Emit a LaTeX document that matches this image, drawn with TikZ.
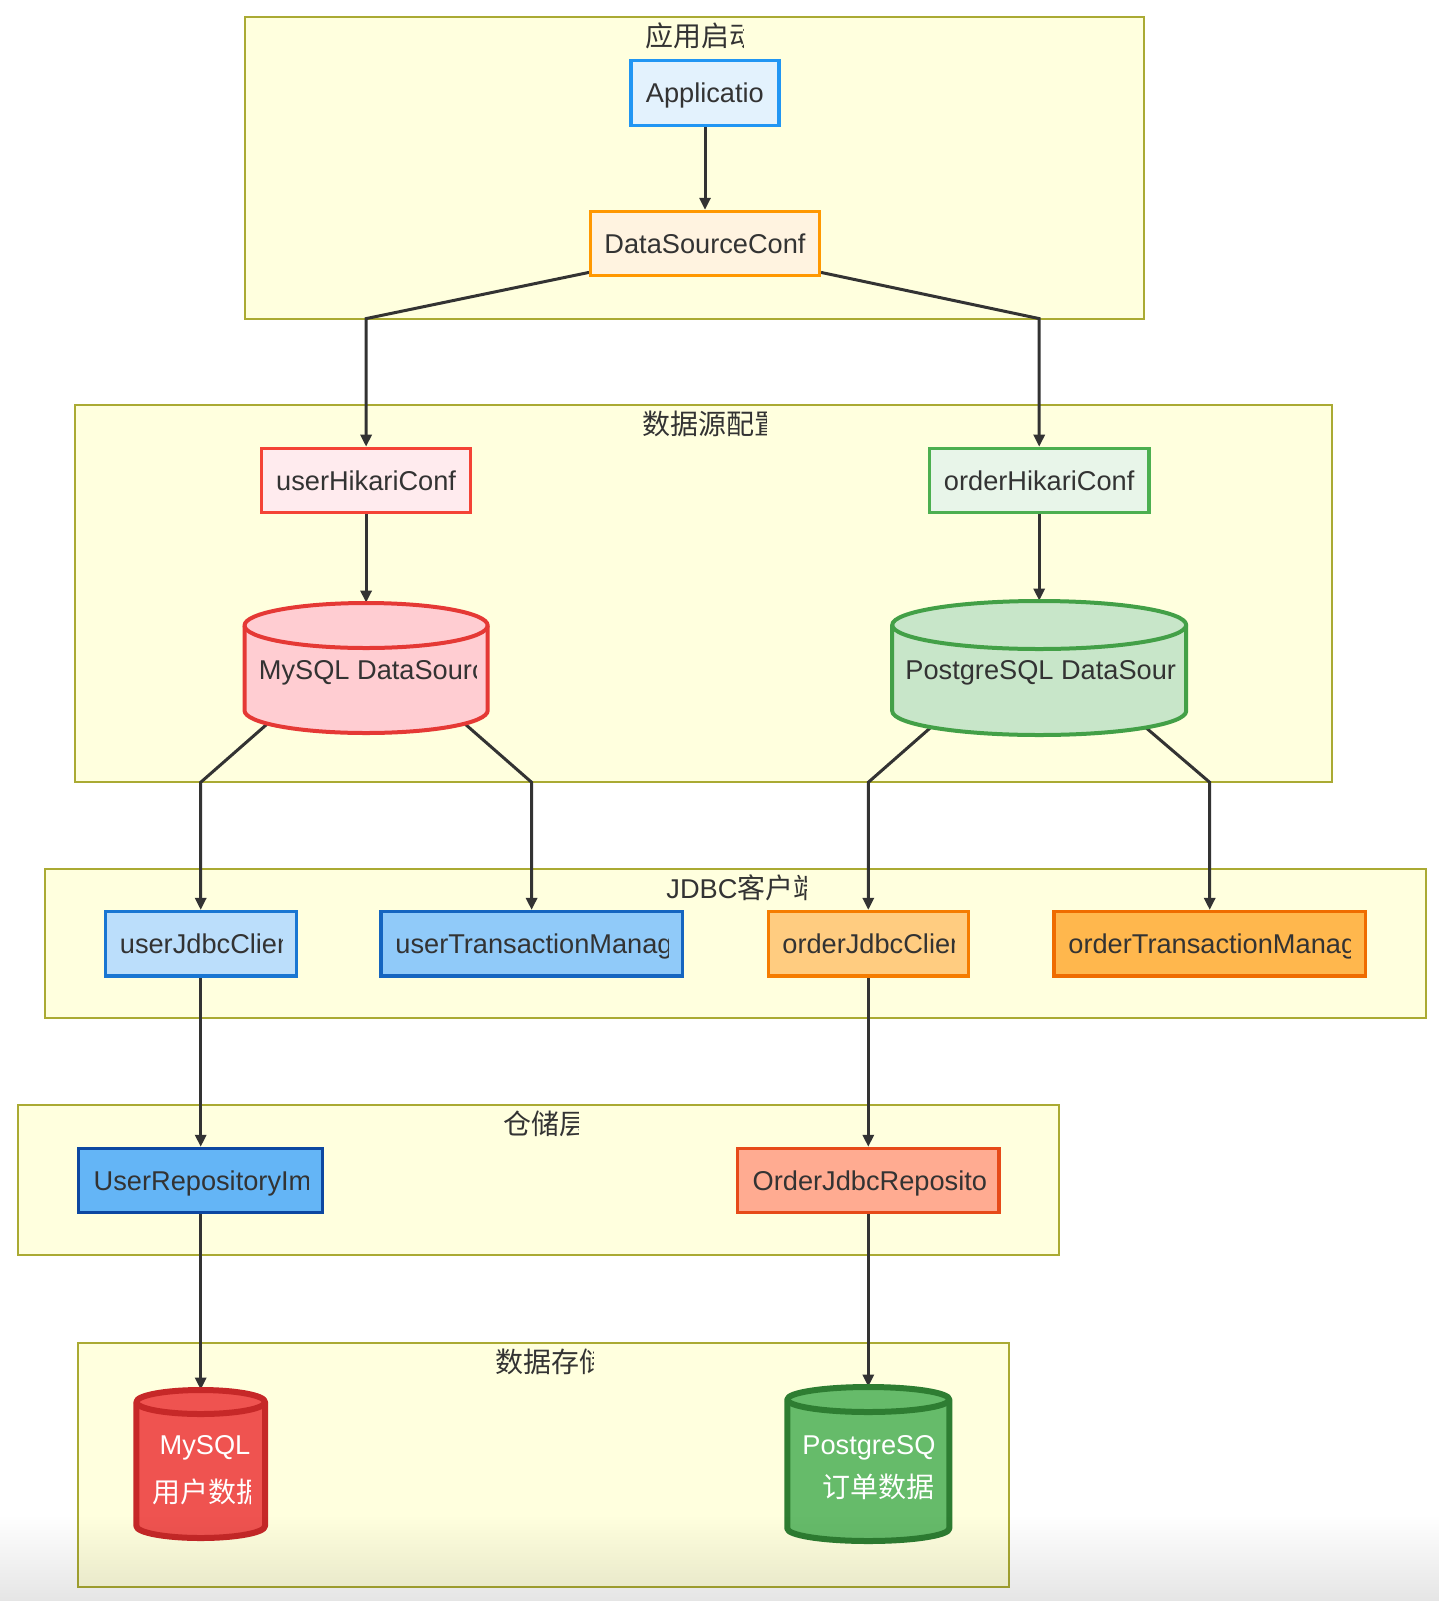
\documentclass[tikz,border=0pt]{standalone}
\usepackage{fontspec}
\setmainfont{Liberation Sans}
\newfontfamily\cjkfont{Noto Sans CJK SC}
\usetikzlibrary{arrows.meta,fadings}

\definecolor{txt}{HTML}{333333}
\definecolor{lineC}{HTML}{333333}
\definecolor{grpF}{HTML}{FFFFDE}
\definecolor{grpB}{HTML}{AAAA33}
\definecolor{appF}{HTML}{E3F2FD}\definecolor{appD}{HTML}{2196F3}
\definecolor{dscF}{HTML}{FFF3E0}\definecolor{dscD}{HTML}{FF9800}
\definecolor{uhcF}{HTML}{FFEBEE}\definecolor{uhcD}{HTML}{F44336}
\definecolor{ohcF}{HTML}{E8F5E9}\definecolor{ohcD}{HTML}{4CAF50}
\definecolor{mdsF}{HTML}{FFCDD2}\definecolor{mdsD}{HTML}{E53935}
\definecolor{pdsF}{HTML}{C8E6C9}\definecolor{pdsD}{HTML}{43A047}
\definecolor{ujcF}{HTML}{BBDEFB}\definecolor{ujcD}{HTML}{1976D2}
\definecolor{utmF}{HTML}{90CAF9}\definecolor{utmD}{HTML}{1565C0}
\definecolor{ojcF}{HTML}{FFCC80}\definecolor{ojcD}{HTML}{F57C00}
\definecolor{otmF}{HTML}{FFB74D}\definecolor{otmD}{HTML}{EF6C00}
\definecolor{urF}{HTML}{64B5F6}\definecolor{urD}{HTML}{0D47A1}
\definecolor{orF}{HTML}{FFAB91}\definecolor{orD}{HTML}{E64A19}
\definecolor{mdbF}{HTML}{EF5350}\definecolor{mdbD}{HTML}{C62828}
\definecolor{pdbF}{HTML}{66BB6A}\definecolor{pdbD}{HTML}{2E7D32}

\newcommand\zh[1]{{\cjkfont\fontsize{14}{16}\selectfont #1}}

\tikzfading[name=fadebot, top color=transparent!100, bottom color=transparent!0]

\tikzset{
  grp/.style={draw=grpB, fill=grpF, line width=1pt},
  nbox/.style={rectangle, line width=1.6pt, inner sep=0pt, minimum height=32.2pt,
    text height=9.8pt, text depth=0pt, text=txt, font=\fontsize{13.6}{16}\selectfont},
  lbl/.style={inner sep=0pt, text height=9.8pt, text depth=0pt, text=txt,
    font=\fontsize{13.6}{16}\selectfont},
  wlbl/.style={lbl, text=white},
  cylanchor/.style={rectangle, inner sep=0pt, draw=none},
  conn/.style={draw=lineC, line width=1.5pt, -{Triangle[length=6pt,width=5.5pt]}},
}

% #1 name, #2 x start, #3 x clip, #4 y, #5 style, #6 text
\newcommand\cliplabel[6]{%
  \begin{scope}
    \clip (#2-2,#4-30) rectangle (#3,#4+30);
    \node[#5, anchor=west] (#1) at (#2,#4) {#6};
  \end{scope}}

% #1 cx, #2 top, #3 bottom, #4 rx, #5 ry, #6 style
\newcommand\drawcyl[6]{%
  \filldraw[#6, line join=round] (#1-#4,#2+#5) -- (#1-#4,#3-#5)
    arc[start angle=180, end angle=0, x radius=#4, y radius=#5]
    -- (#1+#4,#2+#5)
    arc[start angle=0, end angle=-180, x radius=#4, y radius=#5] -- cycle;
  \draw[#6, fill=none] (#1-#4,#2+#5)
    arc[start angle=180, end angle=0, x radius=#4, y radius=#5];}

\begin{document}
\begin{tikzpicture}[x=0.5pt, y=-0.5pt]
\useasboundingbox (0,0) rectangle (1440,1601);
\fill[white] (0,0) rectangle (1440,1601);

% groups
\path[grp] (245.1,17.4) rectangle (1143.8,318.6);
\path[grp] (74.6,405.4) rectangle (1331.8,782.3);
\path[grp] (44.9,869.1) rectangle (1425.7,1018.2);
\path[grp] (18.4,1105) rectangle (1059.1,1255.2);
\path[grp] (77.6,1343) rectangle (1009,1587);

% titles
\cliplabel{t1}{645}{743.5}{36.7}{lbl}{\zh{应用启动}}
\cliplabel{t2}{642.4}{766}{424.9}{lbl}{\zh{数据源配置}}
\cliplabel{t3}{666}{806.5}{888.3}{lbl}{JDBC\zh{客户端}}
\cliplabel{t4}{502.7}{578}{1124.2}{lbl}{\zh{仓储层}}
\cliplabel{t5}{495}{593}{1362.5}{lbl}{\zh{数据存储}}

% node frames (positions)
\node[nbox, minimum width=74pt] (app) at (705,93) {};
\node[nbox, minimum width=114.4pt] (dsc) at (705,243.6) {};
\node[nbox, minimum width=104.7pt] (uhc) at (366.1,480.5) {};
\node[nbox, minimum width=109.8pt] (ohc) at (1039.2,480.5) {};
\node[cylanchor, minimum width=121.6pt, minimum height=65pt] (mds) at (366.1,668) {};
\node[cylanchor, minimum width=147pt, minimum height=67pt] (pds) at (1039.2,668) {};
\node[nbox, minimum width=95.5pt] (ujc) at (200.7,943.7) {};
\node[nbox, minimum width=150.6pt] (utm) at (531.6,943.7) {};
\node[nbox, minimum width=100.1pt] (ojc) at (868.3,943.7) {};
\node[nbox, minimum width=155.7pt] (otm) at (1209.7,943.7) {};
\node[nbox, minimum width=122pt] (urepo) at (200.7,1180.6) {};
\node[nbox, minimum width=130.7pt] (orepo) at (868.3,1180.6) {};
\node[cylanchor, minimum width=64.3pt, minimum height=74pt] (mdb) at (200.7,1464) {};
\node[cylanchor, minimum width=81pt, minimum height=77pt] (pdb) at (868.3,1464) {};

% connectors
\coordinate (y1) at (0,318.6);
\coordinate (y2) at (0,782.3);
\draw[conn] (app.south) -- (dsc.north);
\draw[conn] ([yshift=2.5pt]dsc.south west) -- (uhc.north |- y1) -- (uhc.north);
\draw[conn] ([yshift=2.5pt]dsc.south east) -- (ohc.north |- y1) -- (ohc.north);
\draw[conn] (uhc.south) -- (mds.north);
\draw[conn] (ohc.south) -- (pds.north);
\draw[conn] ([xshift=11.3pt,yshift=4.5pt]mds.south west) -- (ujc.north |- y2) -- (ujc.north);
\draw[conn] ([xshift=-11.3pt,yshift=4.5pt]mds.south east) -- (utm.north |- y2) -- (utm.north);
\draw[conn] ([xshift=19.4pt,yshift=3.9pt]pds.south west) -- (ojc.north |- y2) -- (ojc.north);
\draw[conn] ([xshift=-20.4pt,yshift=3.9pt]pds.south east) -- (otm.north |- y2) -- (otm.north);
\draw[conn] (ujc.south) -- (urepo.north);
\draw[conn] (ojc.south) -- (orepo.north);
\draw[conn] (urepo.south) -- (mdb.north);
\draw[conn] (orepo.south) -- (pdb.north);

% node bodies
\node[nbox, fill=appF, draw=appD, minimum width=74pt] at (app) {};
\node[nbox, fill=dscF, draw=dscD, minimum width=114.4pt] (dscT) at (dsc) {DataSourceConf};
\node[nbox, fill=uhcF, draw=uhcD, minimum width=104.7pt] (uhcT) at (uhc) {userHikariConf};
\node[nbox, fill=ohcF, draw=ohcD, minimum width=109.8pt] (ohcT) at (ohc) {orderHikariConf};
\node[nbox, fill=ujcF, draw=ujcD, minimum width=95.5pt] at (ujc) {};
\node[nbox, fill=utmF, draw=utmD, minimum width=150.6pt] at (utm) {};
\node[nbox, fill=ojcF, draw=ojcD, minimum width=100.1pt] at (ojc) {};
\node[nbox, fill=otmF, draw=otmD, minimum width=155.7pt] at (otm) {};
\node[nbox, fill=urF, draw=urD, minimum width=122pt] at (urepo) {};
\node[nbox, fill=orF, draw=orD, minimum width=130.7pt] at (orepo) {};

\drawcyl{366.1}{603}{733}{121.6}{22.5}{fill=mdsF, draw=mdsD, line width=2pt}
\drawcyl{1039.2}{601}{735}{147}{24}{fill=pdsF, draw=pdsD, line width=2pt}
\drawcyl{200.7}{1390}{1538}{64.3}{12}{fill=mdbF, draw=mdbD, line width=3pt}
\drawcyl{868.3}{1387}{1541}{81}{12.5}{fill=pdbF, draw=pdbD, line width=3pt}

% labels
\cliplabel{appT}{645.5}{764}{93}{lbl}{Applicatio}
\cliplabel{mdsT}{258.5}{476.5}{670}{lbl}{MySQL DataSourc}
\cliplabel{pdsT}{905}{1175}{670}{lbl}{PostgreSQL DataSour}
\cliplabel{ujcT}{119.5}{282}{943.7}{lbl}{userJdbcClien}
\cliplabel{utmT}{395}{668}{943.7}{lbl}{userTransactionManag}
\cliplabel{ojcT}{782}{954}{943.7}{lbl}{orderJdbcClien}
\cliplabel{otmT}{1068}{1350}{943.7}{lbl}{orderTransactionManag}
\cliplabel{urepoT}{93.3}{308.7}{1180.6}{lbl}{UserRepositoryIm}
\cliplabel{orepoT}{752.3}{985.5}{1180.6}{lbl}{OrderJdbcReposito}
\node[wlbl] (mdbT1) at (205,1445) {MySQL};
\cliplabel{mdbT2}{152}{250}{1493}{wlbl}{\zh{用户数据}}
\cliplabel{pdbT1}{802}{936}{1445}{wlbl}{PostgreSQ}
\node[wlbl, anchor=west] (pdbT2) at (822,1488) {\zh{订单数据}};

% bottom screen shade
\fill[black, fill opacity=0.1, path fading=fadebot] (0,1515) rectangle (1440,1601);
\end{tikzpicture}
\end{document}
